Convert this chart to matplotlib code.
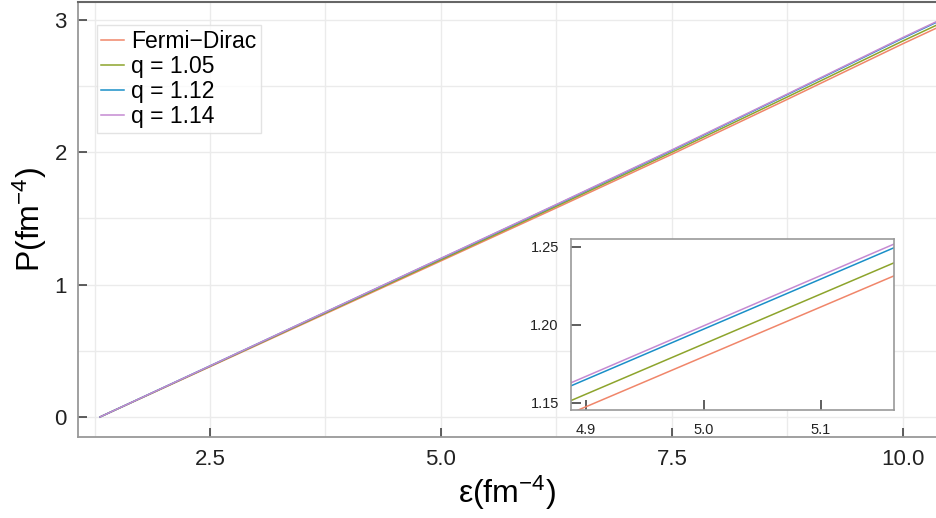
import matplotlib
matplotlib.use("Agg")
import matplotlib.pyplot as plt
from matplotlib.ticker import MultipleLocator, FixedLocator

plt.rcParams['font.family'] = ['Liberation Sans', 'DejaVu Sans']

# energy density (fm^-4) and pressure
eps = [1.309, 2.5, 3.75, 4.85, 5.2, 6.25, 7.5, 8.75, 10.0, 10.4]
p_fd = [0.0, 0.38, 0.78, 1.1314, 1.2434, 1.58, 1.985, 2.40, 2.82, 2.95]
p_q105 = [0.0, 0.383, 0.786, 1.1394, 1.2518, 1.592, 2.0, 2.418, 2.841, 2.972]
p_q112 = [0.0, 0.386, 0.792, 1.1488, 1.2615, 1.603, 2.014, 2.436, 2.862, 2.994]
p_q114 = [0.0, 0.386, 0.793, 1.1507, 1.2639, 1.606, 2.018, 2.44, 2.867, 2.999]

labels = ["Fermi\u2212Dirac", "q = 1.05", "q = 1.12", "q = 1.14"]
colors = ["#f0866a", "#8da42c", "#1a8fc8", "#c58ad2"]
series = [p_fd, p_q105, p_q112, p_q114]

xticks = [2.5, 5.0, 7.5, 10.0]
xticklabels = ["2.5", "5.0", "7.5", "10.0"]
yticks = [0, 1, 2, 3]
inset_xticks = [4.9, 5.0, 5.1]
inset_yticks = [1.15, 1.20, 1.25]

fig = plt.figure(figsize=(9.36, 5.18), dpi=100)
ax = fig.add_axes([0.0833, 0.1564, 0.9167, 0.8398])

for p, lab, c in zip(series, labels, colors):
    ax.plot(eps, p, color=c, lw=1.1, label=lab)

ax.set_xlim(1.071, 10.36)
ax.set_ylim(-0.151, 3.136)
ax.set_xticks(xticks)
ax.set_xticklabels(xticklabels)
ax.set_yticks(yticks)
ax.xaxis.set_minor_locator(MultipleLocator(1.25))
ax.yaxis.set_minor_locator(MultipleLocator(0.5))
ax.grid(True, which='both', color='#ebebeb', lw=1.0)
ax.set_axisbelow(True)
ax.tick_params(which='major', direction='in', length=6.5, width=1.1, color='#333333',
               labelsize=16, labelcolor='#222222')
ax.tick_params(axis='x', which='major', pad=9)
ax.tick_params(axis='y', which='major', pad=8)
ax.tick_params(which='minor', length=0)
ax.spines['right'].set_visible(False)
ax.spines['top'].set_color('#666666')
ax.spines['top'].set_linewidth(1.5)
for s in ['left', 'bottom']:
    ax.spines[s].set_color('#999999')
    ax.spines[s].set_linewidth(1.3)

ax.set_xlabel(r"$\mathregular{\varepsilon(fm^{-4})}$", fontsize=23, labelpad=2)
ax.set_ylabel(r"$\mathregular{P(fm^{-4})}$", fontsize=23, labelpad=4)

leg = ax.legend(loc='upper left', bbox_to_anchor=(0.022, 0.947), fontsize=16.5,
                frameon=True, fancybox=False, handlelength=1.0, handletextpad=0.3,
                borderpad=0.2, labelspacing=0.1, borderaxespad=0)
leg.get_frame().set_edgecolor('#dddddd')
leg.get_frame().set_linewidth(1.0)

# zoomed inset
ins = fig.add_axes([0.6104, 0.2079, 0.3451, 0.3313])
for p, c in zip(series, colors):
    ins.plot(eps, p, color=c, lw=1.1)
ins.set_xlim(4.8875, 5.1624)
ins.set_ylim(1.1451, 1.2551)
ins.xaxis.set_major_locator(FixedLocator(inset_xticks))
ins.yaxis.set_major_locator(FixedLocator(inset_yticks))
ins.set_xticklabels(["4.9", "5.0", "5.1"])
ins.set_yticklabels(["1.15", "1.20", "1.25"])
ins.tick_params(direction='in', length=7, width=1.1, color='#333333',
                labelsize=10.5, labelcolor='#222222', pad=9)
for s in ins.spines.values():
    s.set_color('#999999')
    s.set_linewidth(1.2)

fig.savefig("out.png", dpi=100)
